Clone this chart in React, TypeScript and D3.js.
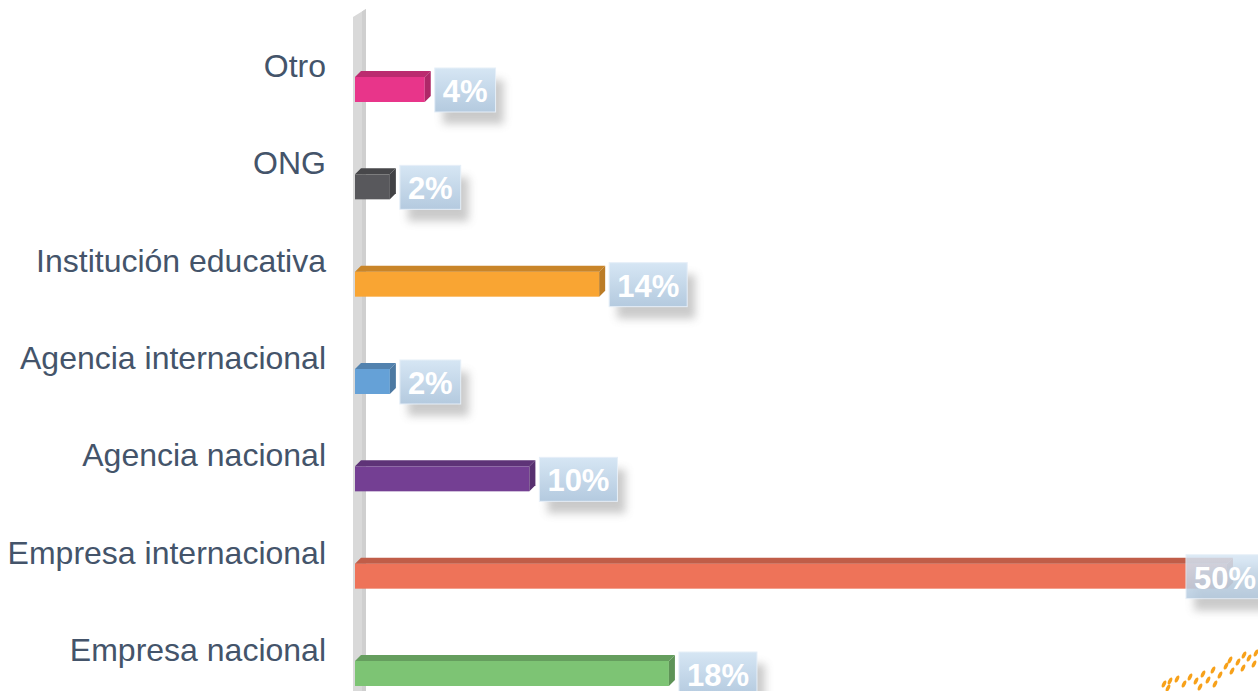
import React, { useEffect, useRef } from 'react';
import * as d3 from 'd3';

const categories = [
  'Otro',
  'ONG',
  'Institución educativa',
  'Agencia internacional',
  'Agencia nacional',
  'Empresa internacional',
  'Empresa nacional',
];
const values = [4, 2, 14, 2, 10, 50, 18];
const colors = ['#e8358a', '#58585c', '#f9a533', '#65a1d7', '#743f93', '#ee7359', '#7dc474'];

export default function App() {
  const svgRef = useRef<SVGSVGElement>(null);
  const width = 1258;
  const height = 691;

  useEffect(() => {
    d3.select(svgRef.current).selectAll('*').remove();
    const svg = d3.select(svgRef.current);

    const x = d3.scaleLinear().domain([0, 50]).range([355, 1227]);
    const y = d3.scalePoint<string>().domain(categories).range([77, 661]);
    const barH = 25;
    const depth = 6;

    const defs = svg.append('defs');
    const grad = defs.append('linearGradient').attr('id', 'boxGrad')
      .attr('x1', 0).attr('y1', 0).attr('x2', 0).attr('y2', 1);
    grad.append('stop').attr('offset', '0%').attr('stop-color', '#d6e6f4');
    grad.append('stop').attr('offset', '100%').attr('stop-color', '#b4cadf');

    const shadow = defs.append('filter').attr('id', 'shadow')
      .attr('x', '-20%').attr('y', '-20%').attr('width', '160%').attr('height', '180%');
    shadow.append('feGaussianBlur').attr('stdDeviation', 4);

    // vertical wall (axis)
    svg.append('path')
      .attr('d', `M353,17 L366,9 L366,${height} L353,${height} Z`)
      .attr('fill', '#d9d9d9');
    svg.append('path')
      .attr('d', `M362,11.5 L366,9 L366,${height} L362,${height} Z`)
      .attr('fill', '#cfcfcf');

    // category labels
    svg.append('g').selectAll('text')
      .data(categories)
      .join('text')
      .attr('x', 326)
      .attr('y', (d) => y(d)!)
      .attr('text-anchor', 'end')
      .attr('font-family', "'Liberation Sans', Arial, sans-serif")
      .attr('font-size', 32)
      .attr('fill', '#44546a')
      .text((d) => d);

    const rows = categories.map((c, i) => ({ c, v: values[i], color: colors[i] }));

    // bars
    const bars = svg.append('g').selectAll('g').data(rows).join('g');
    bars.each(function (d) {
      const g = d3.select(this);
      const x0 = x(0);
      const x1 = x(d.v);
      const y0 = y(d.c)!;
      const dark = d3.color(d.color)!.darker(0.6).formatHex();
      const darker = d3.color(d.color)!.darker(0.8).formatHex();
      g.append('rect')
        .attr('x', x0).attr('y', y0).attr('width', x1 - x0).attr('height', barH)
        .attr('fill', d.color);
      g.append('path')
        .attr('d', `M${x0},${y0} L${x0 + depth},${y0 - depth} L${x1 + depth},${y0 - depth} L${x1},${y0} Z`)
        .attr('fill', dark);
      g.append('path')
        .attr('d', `M${x1},${y0} L${x1 + depth},${y0 - depth} L${x1 + depth},${y0 + barH - depth} L${x1},${y0 + barH} Z`)
        .attr('fill', darker);
    });

    // value labels
    const labels = svg.append('g').selectAll('g').data(rows).join('g');
    labels.each(function (d) {
      const g = d3.select(this);
      const txt = g.append('text')
        .attr('font-family', "'Liberation Sans', Arial, sans-serif")
        .attr('font-weight', 'bold')
        .attr('font-size', 31)
        .attr('fill', '#ffffff')
        .text(`${d.v}%`);
      const tw = (txt.node() as SVGTextElement).getComputedTextLength();
      const bw = tw + 16;
      const bh = 44;
      const bx = Math.min(x(d.v) + 10, width - bw + 6);
      const by = y(d.c)! - 9;
      g.insert('rect', 'text')
        .attr('x', bx + 8).attr('y', by + 12).attr('width', bw).attr('height', bh)
        .attr('fill', '#8a8a8a').attr('opacity', 0.45).attr('filter', 'url(#shadow)');
      g.insert('rect', 'text')
        .attr('x', bx).attr('y', by).attr('width', bw).attr('height', bh)
        .attr('fill', 'url(#boxGrad)').attr('opacity', d.v >= 50 ? 0.85 : 1)
        .attr('stroke', '#e6eff8').attr('stroke-width', 1);
      txt.attr('x', bx + 8).attr('y', by + 34);
    });

    // decorative orange marks, bottom right
    const deco = [[1164, 684], [1170, 681], [1168, 688], [1177, 679], [1184, 684], [1190, 677], [1196, 681], [1203, 674], [1208, 680], [1213, 670], [1220, 675], [1226, 666], [1232, 671], [1238, 662], [1243, 668], [1249, 658], [1254, 664], [1256, 653], [1230, 660], [1244, 655], [1200, 687], [1215, 684]];
    svg.append('g').selectAll('ellipse')
      .data(deco)
      .join('ellipse')
      .attr('cx', (d) => d[0]).attr('cy', (d) => d[1])
      .attr('rx', 1.8).attr('ry', 3.8)
      .attr('transform', (d) => `rotate(25,${d[0]},${d[1]})`)
      .attr('fill', '#f7a11a');
  }, []);

  return (
    <svg
      ref={svgRef}
      width={width}
      height={height}
      style={{ position: 'absolute', left: 0, top: 0, background: '#ffffff' }}
    />
  );
}
